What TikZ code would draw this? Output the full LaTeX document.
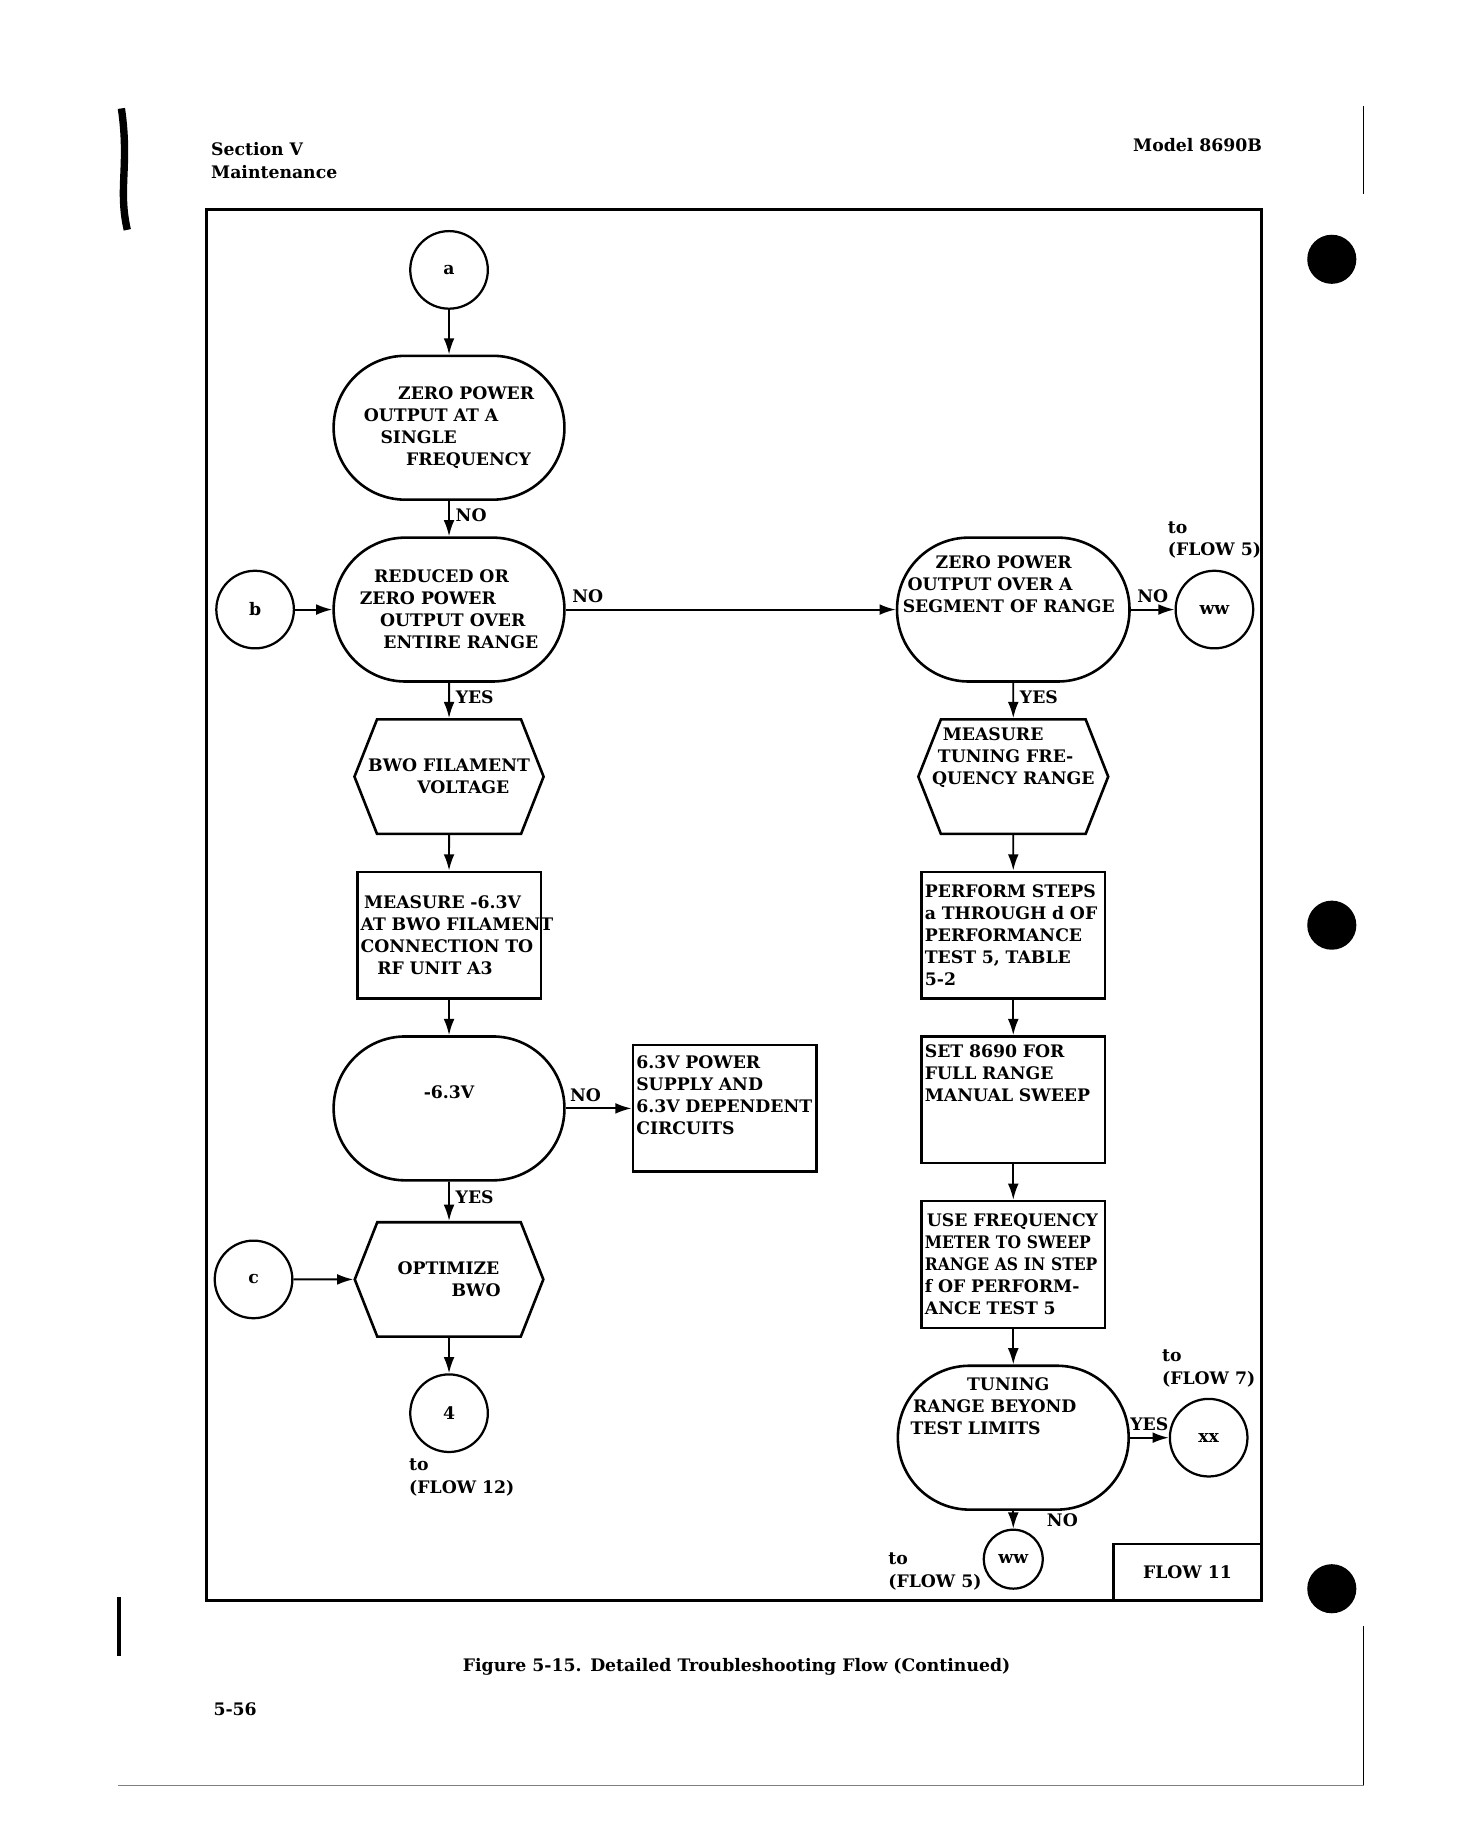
\documentclass[tikz,border=0pt]{standalone}
\usepackage{fontspec}
\setmainfont{DejaVu Serif}
\usetikzlibrary{positioning,arrows.meta,shapes.symbols}

\tikzset{
  conn/.style={circle, draw, line width=1.3pt, minimum size=15.8mm, inner sep=0pt},
  term/.style={draw, line width=1.5pt, rounded corners=14.6mm, minimum width=47mm, minimum height=29.3mm, align=left},
  hexbox/.style={signal, signal to=west and east, signal from=nowhere, signal pointer angle=137, draw, line width=1.5pt, inner xsep=-1.8mm, minimum width=38.4mm, minimum height=23.3mm, align=left},
  stepbox/.style={draw, line width=1.5pt, text width=36mm, inner sep=0.7mm, minimum height=25.8mm, align=left},
  flow/.style={->, line width=1.1pt},
}

\begin{document}
\begin{tikzpicture}[x=0.24mm, y=-0.24mm, >={Latex[length=3.3mm,width=2.2mm]}, node distance=7.2mm, font=\fontsize{10}{12.8}\selectfont\bfseries]
  \useasboundingbox (0,0) rectangle (1241,1568);

  % page, frame and scan marks
  \draw[line width=1.5mm] (103,92) .. controls (110,140) and (100,160) .. (108,195);
  \draw[line width=1mm] (101,1355) -- (101,1405);
  \draw[line width=0.5pt] (1157,90) -- (1157,165);
  \draw[line width=0.5pt] (1157,1380) -- (1157,1515);
  \draw[gray, line width=0.8pt] (100,1515) -- (1157,1515);
  \fill (1130,220) circle[radius=5mm];
  \fill (1130,785) circle[radius=5mm];
  \fill (1130,1348) circle[radius=5mm];
  \draw[line width=1.7pt] (175,178) rectangle (1070,1358);

  \node[anchor=north west, align=left] (sect) at (174,116) {Section V\\Maintenance};
  \node[anchor=north east] (model) at (1076,112) {Model 8690B};
  \node (cap) at (625,1414) {Figure 5-15.\enspace Detailed Troubleshooting Flow (Continued)};
  \node[anchor=west] (page) at (176,1450) {5-56};
  \node[draw, line width=1.5pt, minimum width=30mm, minimum height=11.5mm] (flowbox) at (1007.5,1334) {FLOW 11};

  % left column
  \node[conn] (a) at (381,229) {a};
  \node[term, below=9.1mm of a] (zero1) {\hspace*{7mm}ZERO POWER\\OUTPUT AT A\\\hspace*{3.4mm}SINGLE\\\hspace*{8.6mm}FREQUENCY};
  \node[term, below=of zero1] (entire) {\hspace*{2.9mm}REDUCED OR\\ZERO POWER\\\hspace*{4.1mm}OUTPUT OVER\\\hspace*{4.8mm}ENTIRE RANGE};
  \node[conn, left=7.6mm of entire] (b) {b};
  \node[hexbox, below=of entire] (fil) {BWO FILAMENT\\\hspace*{10mm}VOLTAGE};
  \node[stepbox, below=of fil] (meas) {\hspace*{0.7mm}MEASURE -6.3V\\\mbox{AT BWO FILAMENT}\\CONNECTION TO\\\hspace*{3.4mm}RF UNIT A3};
  \node[term, below=of meas] (volt) {-6.3V\\[2mm]\mbox{}};
  \node[stepbox, right=13.4mm of volt] (psu) {6.3V POWER\\SUPPLY AND\\\mbox{6.3V DEPENDENT}\\CIRCUITS\\[0.8mm]\mbox{}};
  \node[hexbox, below=8mm of volt] (opt) {OPTIMIZE\\\hspace*{11mm}BWO};
  \node[conn, left=12.2mm of opt] (c) {c};
  \node[conn, below=of opt] (four) {4};
  \node[below=0pt of four, xshift=2.6mm, align=left] (four-to) {to\\(FLOW 12)};

  % right column
  \node[term, right=67.2mm of entire] (seg) {\hspace*{6.7mm}ZERO POWER\\\hspace*{1mm}OUTPUT OVER A\\SEGMENT OF RANGE\\[6mm]\hspace*{45mm}};
  \node[conn, right=8.9mm of seg] (ww) {ww};
  \node[above=1mm of ww, align=left] (ww-to) {to\\(FLOW 5)};
  \node[hexbox, below=of seg] (tune) {\hspace*{2.2mm}MEASURE\\\hspace*{1.2mm}TUNING FRE-\\QUENCY RANGE\\[4mm]\mbox{}};
  \node[stepbox, below=of tune] (perf) {PERFORM STEPS\\a THROUGH d OF\\PERFORMANCE\\TEST 5, TABLE\\5-2};
  \node[stepbox, below=of perf] (sweep) {SET 8690 FOR\\FULL RANGE\\MANUAL SWEEP\\[6.5mm]\mbox{}};
  \node[stepbox, below=of sweep] (meter) {\hspace*{0.4mm}USE FREQUENCY\\{\addfontfeature{FakeStretch=0.9}METER TO SWEEP}\\\mbox{\addfontfeature{FakeStretch=0.9}RANGE AS IN STEP}\\f OF PERFORM-\\ANCE TEST 5};
  \node[term, below=of meter] (limits) {\hspace*{11.5mm}TUNING\\\hspace*{0.5mm}RANGE BEYOND\\TEST LIMITS\\[8.4mm]\hspace*{41.8mm}};
  \node[conn, right=7.9mm of limits] (xx) {xx};
  \node[above=1mm of xx, align=left] (xx-to) {to\\(FLOW 7)};
  \node[conn, minimum size=12mm, below=3.6mm of limits] (ww2) {ww};
  \node[left=0.5mm of ww2, yshift=-2.5mm, xshift=1.5mm, align=left] (ww2-to) {to\\(FLOW 5)};

  % connectors
  \draw[flow] (a) -- (zero1);
  \draw[flow] (zero1) -- node[right, pos=0.4]{NO} (entire);
  \draw[flow] (b) -- (entire);
  \draw[flow] (entire) -- node[above right, pos=0]{NO} (seg);
  \draw[flow] (entire) -- node[right, pos=0.4]{YES} (fil);
  \draw[flow] (fil) -- (meas);
  \draw[flow] (meas) -- (volt);
  \draw[flow] (volt) -- node[above, pos=0.3]{NO} (psu);
  \draw[flow] (volt) -- node[right, pos=0.4]{YES} (opt);
  \draw[flow] (c) -- (opt);
  \draw[flow] (opt) -- (four);
  \draw[flow] (seg) -- node[above]{NO} (ww);
  \draw[flow] (seg) -- node[right, pos=0.4]{YES} (tune);
  \draw[flow] (tune) -- (perf);
  \draw[flow] (perf) -- (sweep);
  \draw[flow] (sweep) -- (meter);
  \draw[flow] (meter) -- (limits);
  \draw[flow] (limits) -- node[above]{YES} (xx);
  \draw[flow] (limits) -- node[right=5.5mm]{NO} (ww2);
\end{tikzpicture}
\end{document}
